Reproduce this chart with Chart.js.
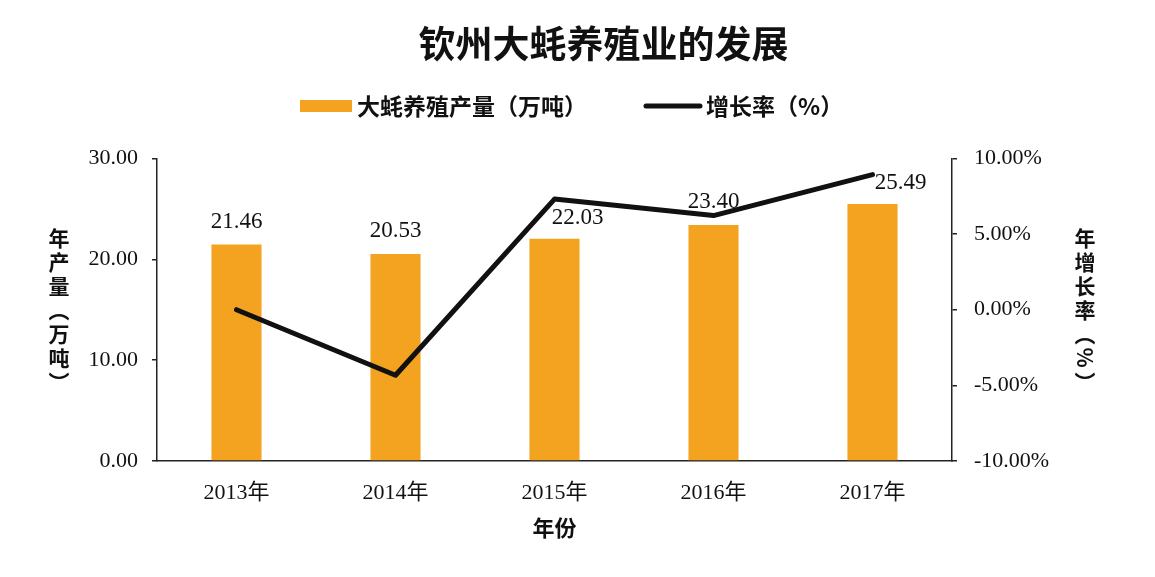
<!DOCTYPE html>
<html><head><meta charset="utf-8">
<script src="https://cdn.jsdelivr.net/npm/chart.js@4.4.1/dist/chart.umd.min.js"></script>
<style>html,body{margin:0;padding:0;background:#fff}#wrap{width:1155px;height:577px}</style>
</head><body><div id="wrap"><canvas id="c" width="1155" height="577"></canvas></div>
<script>
const chartTitle = '钦州大蚝养殖业的发展';
const categories = ['2013年', '2014年', '2015年', '2016年', '2017年'];
const outputValues = [21.46, 20.53, 22.03, 23.40, 25.49];
const growthValues = [0.00, -4.33, 7.31, 6.22, 8.93];
const outputLabel = '大蚝养殖产量（万吨）';
const growthLabel = '增长率（%）';
const leftTicks = [0, 10, 20, 30];
const rightTicks = [-10, -5, 0, 5, 10];
const xTitle = '年份';
const leftTitle = ['年', '产', '量', '︵', '万', '吨', '︶'];
const rightTitle = ['年', '增', '长', '率', '︵', '%', '︶'];

const CJK = '"Noto Sans CJK SC", "Noto Sans", sans-serif';
const SERIF = '"Liberation Serif", "Noto Sans CJK SC", serif';
const BAR_COLOR = '#F3A31F';
const LINE_COLOR = '#111111';
const TEXT = '#111111';

const customText = {
  id: 'customText',
  beforeDatasetsDraw(chart, args, opts) {
    const ctx = chart.ctx;
    const meta = chart.getDatasetMeta(1);
    ctx.save();
    ctx.font = '23px ' + SERIF;
    ctx.fillStyle = TEXT;
    ctx.textAlign = 'center';
    ctx.textBaseline = 'middle';
    meta.data.forEach((bar, i) => {
      const dx = opts.shiftX[i] || 0;
      const dy = opts.shiftY[i] || 0;
      ctx.fillText(outputValues[i].toFixed(2), bar.x + dx, bar.y - 23 + dy);
    });
    ctx.restore();
  },
  afterDraw(chart) {
    const ctx = chart.ctx;
    const area = chart.chartArea;
    ctx.save();
    // legend
    const ly = 106;
    ctx.fillStyle = BAR_COLOR;
    ctx.fillRect(300, ly - 6, 52, 12);
    ctx.font = 'bold 23px ' + CJK;
    ctx.fillStyle = TEXT;
    ctx.textAlign = 'left';
    ctx.textBaseline = 'middle';
    ctx.fillText(outputLabel, 357, ly);
    ctx.strokeStyle = LINE_COLOR;
    ctx.lineWidth = 5;
    ctx.lineCap = 'round';
    ctx.beginPath();
    ctx.moveTo(646, ly);
    ctx.lineTo(700, ly);
    ctx.stroke();
    ctx.fillText(growthLabel, 706, ly);
    // vertical axis titles
    ctx.font = 'bold 21px ' + CJK;
    ctx.textAlign = 'center';
    const midY = (area.top + area.bottom) / 2;
    const step = 24;
    const drawVertical = (chars, x) => {
      const y0 = midY - step * (chars.length - 1) / 2;
      chars.forEach((ch, i) => {
        const y = y0 + i * step;
        if (/[A-Za-z0-9%]/.test(ch)) {
          ctx.save();
          ctx.translate(x, y);
          ctx.rotate(Math.PI / 2);
          ctx.fillText(ch, 0, 0);
          ctx.restore();
        } else {
          ctx.fillText(ch, x, y);
        }
      });
    };
    drawVertical(leftTitle, 59);
    drawVertical(rightTitle, 1085);
    ctx.restore();
  }
};

new Chart(document.getElementById('c'), {
  type: 'bar',
  data: {
    labels: categories,
    datasets: [
      {
        type: 'line',
        label: growthLabel,
        data: growthValues,
        yAxisID: 'y1',
        borderColor: LINE_COLOR,
        backgroundColor: LINE_COLOR,
        borderWidth: 5,
        pointRadius: 0,
        tension: 0,
        borderJoinStyle: 'round',
        borderCapStyle: 'round',
        order: 0
      },
      {
        type: 'bar',
        label: outputLabel,
        data: outputValues,
        yAxisID: 'y',
        backgroundColor: BAR_COLOR,
        barPercentage: 0.315,
        categoryPercentage: 1,
        order: 1
      }
    ]
  },
  options: {
    responsive: false,
    animation: false,
    devicePixelRatio: 1,
    layout: { padding: { left: 52, right: 0, top: 0, bottom: 36 } },
    plugins: {
      legend: { display: false },
      tooltip: { enabled: false },
      title: {
        display: true,
        text: chartTitle,
        color: TEXT,
        font: { family: CJK, size: 37, weight: 'bold' },
        padding: { top: 22, bottom: 92 }
      },
      customText: { shiftX: [0, 0, 23, 0, 28], shiftY: [0, 0, 2, 0, 2] }
    },
    scales: {
      x: {
        type: 'category',
        offset: true,
        grid: { display: false, drawTicks: false },
        border: { display: true, color: '#222', width: 1.5 },
        ticks: { color: TEXT, font: { family: SERIF, size: 22 }, padding: 19 },
        title: { display: true, text: xTitle, color: TEXT, font: { family: CJK, size: 22, weight: 'bold' }, padding: { top: 4, bottom: 0 } },
        afterFit(s) { s.height = 80; }
      },
      y: {
        position: 'left',
        min: leftTicks[0],
        max: leftTicks[leftTicks.length - 1],
        afterBuildTicks(s) { s.ticks = leftTicks.map(v => ({ value: v })); },
        ticks: { color: TEXT, font: { family: SERIF, size: 22 }, padding: 14, callback: v => Number(v).toFixed(2) },
        grid: { drawOnChartArea: false, drawTicks: true, tickLength: 5, color: '#222', lineWidth: 1.5 },
        border: { display: true, color: '#222', width: 1.5 },
        afterFit(s) { s.width = 105; }
      },
      y1: {
        position: 'right',
        min: rightTicks[0],
        max: rightTicks[rightTicks.length - 1],
        afterBuildTicks(s) { s.ticks = rightTicks.map(v => ({ value: v })); },
        ticks: { color: TEXT, font: { family: SERIF, size: 22 }, padding: 17, callback: v => Number(v).toFixed(2) + '%' },
        grid: { drawOnChartArea: false, drawTicks: true, tickLength: 5, color: '#222', lineWidth: 1.5 },
        border: { display: true, color: '#222', width: 1.5 },
        afterFit(s) { s.width = 203; }
      }
    }
  },
  plugins: [customText]
});
</script>
</body></html>
